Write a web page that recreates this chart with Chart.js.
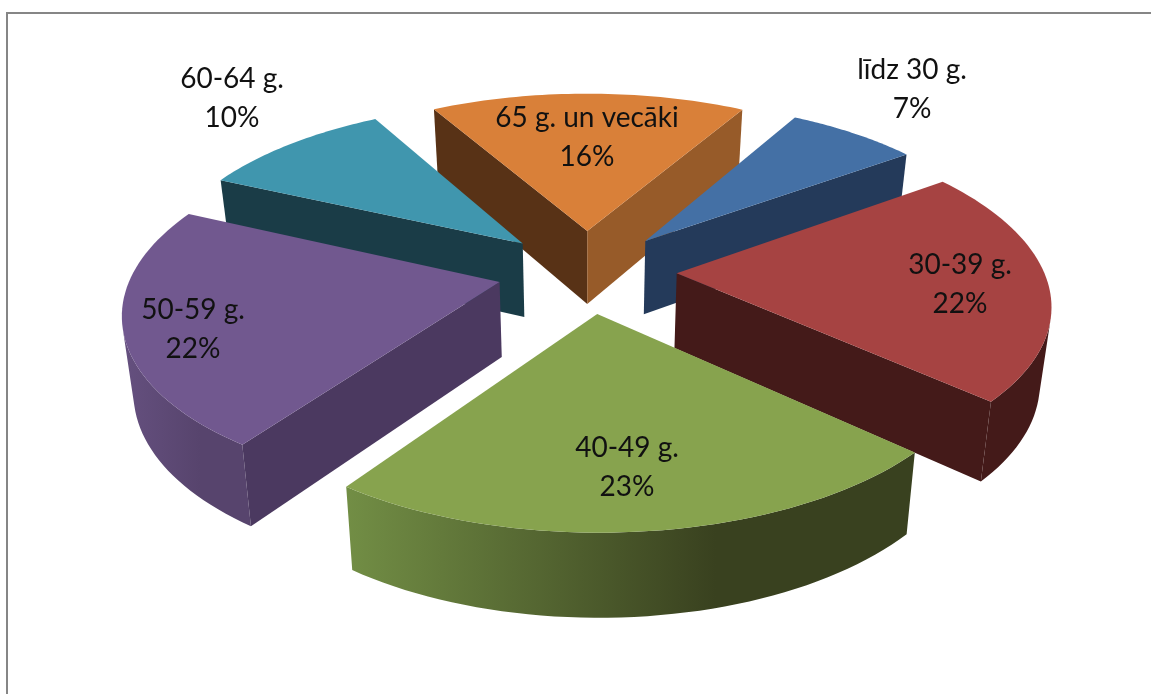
<!DOCTYPE html>
<html><head><meta charset="utf-8">
<style>html,body{margin:0;padding:0;background:#fff}canvas{display:block}</style>
<script src="https://cdn.jsdelivr.net/npm/chart.js@4"></script>
</head><body>
<canvas id="c" width="1151" height="694"></canvas>
<script>
// Data
const categories = ['līdz 30 g.', '30-39 g.', '40-49 g.', '50-59 g.', '60-64 g.', '65 g. un vecāki'];
const shares = [6.8, 21.7, 23, 22.1, 10, 16.4];
// Styles
const topColors  = ['#4470a5', '#a64342', '#87a34e', '#71588f', '#4096ae', '#d98039'];
const startFaces = ['#243a5a', '#441a19', '#39411f', '#4b3960', '#1a3c47', '#583216'];
const endFaces   = ['#243a5a', '#441a19', '#39411f', '#4b3960', '#1a3c47', '#975b29'];
const rimLeft    = ['#243a5a', '#441a19', '#728e45', '#65507f', '#1a3c47', '#583216'];
const rimRight   = ['#243a5a', '#441a19', '#39411f', '#57446d', '#1a3c47', '#975b29'];
const paintOrder = [5, 4, 0, 3, 1, 2];
// Label anchor relative to pie centre: [dx, first baseline dy]
const labelAnchors = [[325,-192],[373,3],[40,186],[-394,48],[-355,-183],[0,-144]];
// View
const view = {sx:367, k:170, p:0.155, shrink:0.975, depth:73, depthGrow:0.04};
const explode = 59;

function project(cx,cy,X,Y){const d=1+view.p*Y;return {x:cx+view.sx*X/d,y:cy-view.k*Y/d};}
function lower(cx,cy,pt){return {x:cx+(pt.x-cx)*view.shrink,y:pt.y+view.depth+(pt.y-cy+40)*view.depthGrow};}
function cross(a,b,d){return (b.x-a.x)*(d.y-b.y)-(b.y-a.y)*(d.x-b.x);}
function poly(ctx,pts,fill){
  ctx.beginPath();pts.forEach((p,i)=>i?ctx.lineTo(p.x,p.y):ctx.moveTo(p.x,p.y));ctx.closePath();
  ctx.fillStyle=fill;ctx.fill();
}
const pie3d = {
  id:'pie3d',
  beforeDraw(chart){
    const ctx=chart.ctx;ctx.save();ctx.fillStyle='#fff';ctx.fillRect(0,0,chart.width,chart.height);
    ctx.strokeStyle='#868686';ctx.lineWidth=2;ctx.beginPath();ctx.moveTo(7,chart.height);ctx.lineTo(7,13);ctx.lineTo(chart.width,13);ctx.stroke();ctx.restore();
  },
  beforeDatasetDraw(chart){
    const ctx=chart.ctx, arcs=chart.getDatasetMeta(0).data;
    ctx.save();
    paintOrder.forEach(i=>{
      const arc=arcs[i], cx=arc.x, cy=arc.y, r=arc.outerRadius, e=arc.options.offset/r;
      const a0=arc.startAngle, a1=arc.endAngle, mid=(a0+a1)/2;
      const ox=Math.cos(mid)*e, oy=-Math.sin(mid)*e;
      const apex=project(cx,cy,ox,oy), rim=[], n=48;
      for(let j=0;j<=n;j++){const a=a0+(a1-a0)*j/n;rim.push(project(cx,cy,ox+Math.cos(a),oy-Math.sin(a)));}
      const lo=p=>lower(cx,cy,p), first=rim[0], last=rim[n];
      // outer wall: contiguous visible run
      const xs=rim.map(p=>p.x), g=ctx.createLinearGradient(Math.min(...xs),0,Math.max(...xs),0);
      g.addColorStop(0,rimLeft[i]);g.addColorStop(.65,rimRight[i]);g.addColorStop(1,rimRight[i]);
      let run=[];
      const flush=()=>{if(run.length>1){poly(ctx,run.concat(run.map(lo).reverse()),g);}run=[];};
      for(let j=0;j<n;j++){
        const a=rim[j],b=rim[j+1];
        if(cross(a,b,lo(b))<0){if(!run.length)run.push(a);run.push(b);} else flush();
      }
      flush();
      // radial walls
      if(cross(first,apex,lo(apex))>0) poly(ctx,[first,apex,lo(apex),lo(first)],startFaces[i]);
      if(cross(apex,last,lo(last))>0) poly(ctx,[apex,last,lo(last),lo(apex)],endFaces[i]);
      // top face
      poly(ctx,[apex].concat(rim),arc.options.backgroundColor);
    });
    ctx.restore();
    return false;
  },
  afterDatasetsDraw(chart){
    const ctx=chart.ctx, arcs=chart.getDatasetMeta(0).data, vals=chart.data.datasets[0].data;
    const sum=vals.reduce((a,b)=>a+b,0);
    ctx.save();ctx.font='28px Lato';ctx.fillStyle='#111';ctx.textAlign='center';ctx.textBaseline='alphabetic';
    arcs.forEach((arc,i)=>{
      const [dx,dy]=labelAnchors[i], x=arc.x+dx, y=arc.y+dy;
      ctx.fillText(chart.data.labels[i],x,y);
      ctx.fillText(Math.round(vals[i]/sum*100)+'%',x,y+39);
    });
    ctx.restore();
  }
};
new Chart(document.getElementById('c'),{
  type:'pie',
  data:{labels:categories,datasets:[{data:shares,backgroundColor:topColors,borderWidth:0,offset:explode}]},
  options:{
    responsive:false,animation:false,rotation:29.7,
    layout:{padding:{left:23,bottom:152}},
    plugins:{legend:{display:false},tooltip:{enabled:false}}
  },
  plugins:[pie3d]
});
</script>
</body></html>
